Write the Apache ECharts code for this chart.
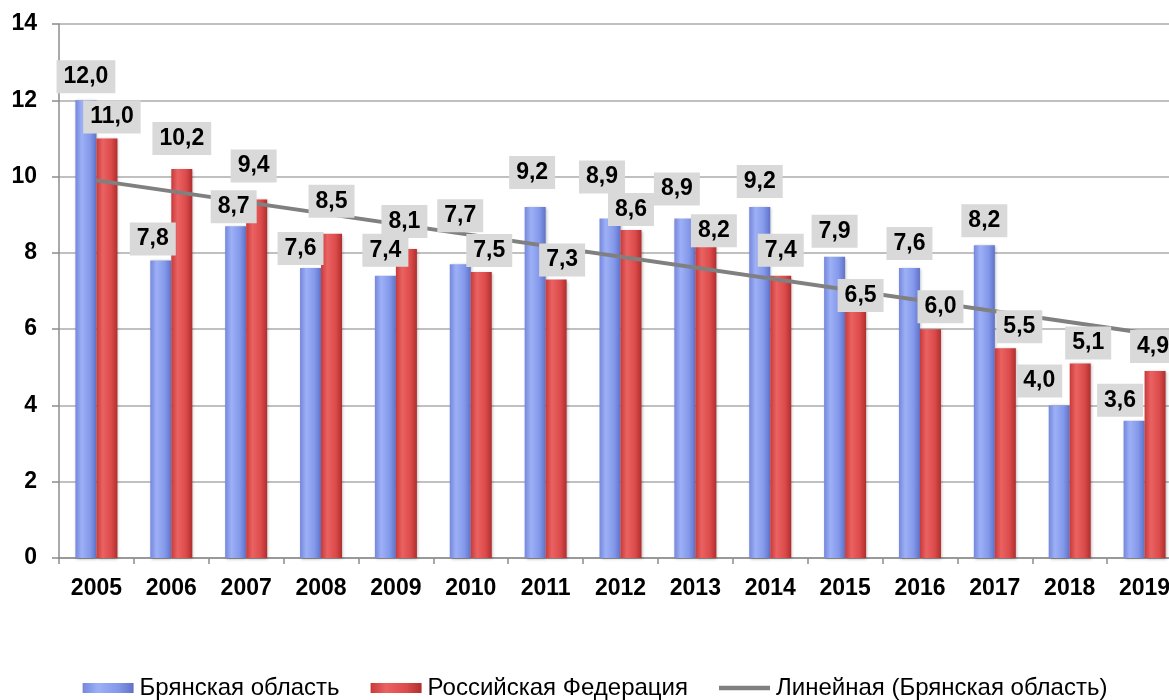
<!DOCTYPE html>
<html>
<head>
<meta charset="utf-8">
<script src="https://cdn.jsdelivr.net/npm/echarts@6/dist/echarts.min.js"></script>
<style>
html,body{margin:0;padding:0;overflow:hidden;background:#fff;}
#chart{width:1190px;height:700px;}
</style>
</head>
<body>
<div id="chart"></div>
<script>
// ---- data ----
const years = ['2005','2006','2007','2008','2009','2010','2011','2012','2013','2014','2015','2016','2017','2018','2019'];
const bryansk = [12.0, 7.8, 8.7, 7.6, 7.4, 7.7, 9.2, 8.9, 8.9, 9.2, 7.9, 7.6, 8.2, 4.0, 3.6];
const russia  = [11.0, 10.2, 9.4, 8.5, 8.1, 7.5, 7.3, 8.6, 8.2, 7.4, 6.5, 6.0, 5.5, 5.1, 4.9];
const trendStart = 9.9;   // linear trend value at 2005
const trendEnd = 5.9;     // linear trend value at 2019
const yTicks = [0, 14, 2]; // min, max, interval
const seriesNames = ['Брянская область', 'Российская Федерация', 'Линейная (Брянская область)'];

// ---- label placement tweaks (px), separate from data ----
const blueLabelLift = [2, 0, -2, -2, 4, 27, 13, 20, 8, 4, 4, 3, 3, 3, -1];
const blueLabelDx   = [0, -8, -2, -10, 0, 0, -3, -8, -8, 0, 0, 0, 0, -20, -14];
const redLabelLift  = [0, 9, 12, 11, 6, 0, -2, -1, -7, 4, -7, 1, 0, -1, 3];
const redLabelDx    = [5, 0, -3, 0, -2, 8, 6, 0, 8, 0, 5, 10, 14, 8, -2];

const FONT = '"Liberation Sans", Arial, sans-serif';
const trendData = years.map((y, i) => i === 0 ? trendStart : (i === years.length - 1 ? trendEnd : null));

const blueGrad = {type:'linear', x:0, y:0, x2:1, y2:0, colorStops:[
  {offset:0, color:'#7487dc'}, {offset:0.3, color:'#9db0f6'}, {offset:0.7, color:'#8398ea'}, {offset:1, color:'#5f72c8'}]};
const redGrad = {type:'linear', x:0, y:0, x2:1, y2:0, colorStops:[
  {offset:0, color:'#c93a3a'}, {offset:0.3, color:'#ea6262'}, {offset:0.7, color:'#dc4b4b'}, {offset:1, color:'#b02e2e'}]};

const BW = 21;
const fmt = p => p.value.toFixed(1).replace('.', ',');
const labelBase = {
  show: true, position: 'top', distance: 5,
  formatter: fmt,
  backgroundColor: '#d9d9d9',
  padding: [6, 7],
  color: '#000', fontFamily: FONT, fontWeight: 'bold', fontSize: 23, lineHeight: 21
};
function labelData(vals, lift, dx) {
  return vals.map((v, i) => ({ value: v, label: { offset: [dx[i], -lift[i]] } }));
}

const chart = echarts.init(document.getElementById('chart'), null, {renderer: 'canvas'});
chart.setOption({
  animation: false,
  backgroundColor: '#fff',
  grid: { left: 59, right: 8, top: 24, bottom: 142, containLabel: false },
  xAxis: [{
    type: 'category', data: years, boundaryGap: true,
    axisLine: { show: true, lineStyle: { color: '#8c8c8c', width: 1.5 } },
    axisTick: { show: true, length: 6, lineStyle: { color: '#8c8c8c', width: 1.5 } },
    axisLabel: { color: '#000', fontFamily: FONT, fontWeight: 'bold', fontSize: 23, margin: 19 },
    splitLine: { show: false }
  }, {
    type: 'category', data: years, show: false, position: 'bottom'
  }],
  yAxis: {
    type: 'value', min: yTicks[0], max: yTicks[1], interval: yTicks[2],
    axisLine: { show: true, lineStyle: { color: '#8c8c8c', width: 1.5 } },
    axisTick: { show: true, length: 7, lineStyle: { color: '#8c8c8c', width: 1.5 } },
    axisLabel: { color: '#000', fontFamily: FONT, fontWeight: 'bold', fontSize: 23, margin: 22 },
    splitLine: { show: true, lineStyle: { color: '#ababab', width: 1.5 } }
  },
  legend: {
    data: [
      { name: seriesNames[0], icon: 'rect' },
      { name: seriesNames[1], icon: 'rect' },
      { name: seriesNames[2], icon: 'path://M0,0 L45,0 L45,4 L0,4 Z' }
    ],
    left: 'center', top: 671, itemWidth: 51, itemHeight: 10, itemGap: 31,
    textStyle: { color: '#000', fontFamily: FONT, fontSize: 24, padding: [0, 0, 0, 1] }
  },
  series: [
    { name: seriesNames[0], type: 'bar', data: bryansk, barWidth: BW, barGap: '0%', z: 2,
      itemStyle: { color: blueGrad, shadowColor: 'rgba(0,0,0,0.3)', shadowBlur: 3, shadowOffsetX: 1, shadowOffsetY: 1 } },
    { name: seriesNames[1], type: 'bar', data: russia, barWidth: BW, barGap: '0%', z: 2,
      itemStyle: { color: redGrad, shadowColor: 'rgba(0,0,0,0.3)', shadowBlur: 3, shadowOffsetX: 1, shadowOffsetY: 1 } },
    { name: seriesNames[2], type: 'line', data: trendData, connectNulls: true, symbol: 'none', z: 3,
      lineStyle: { color: '#808080', width: 4 }, itemStyle: { color: '#808080' } },
    { name: 'lblA', type: 'bar', xAxisIndex: 1, data: labelData(bryansk, blueLabelLift, blueLabelDx),
      barWidth: BW, barGap: '0%', z: 5, silent: true,
      itemStyle: { color: 'rgba(0,0,0,0)' }, label: labelBase },
    { name: 'lblB', type: 'bar', xAxisIndex: 1, data: labelData(russia, redLabelLift, redLabelDx),
      barWidth: BW, barGap: '0%', z: 5, silent: true,
      itemStyle: { color: 'rgba(0,0,0,0)' }, label: labelBase }
  ]
});
</script>
</body>
</html>
